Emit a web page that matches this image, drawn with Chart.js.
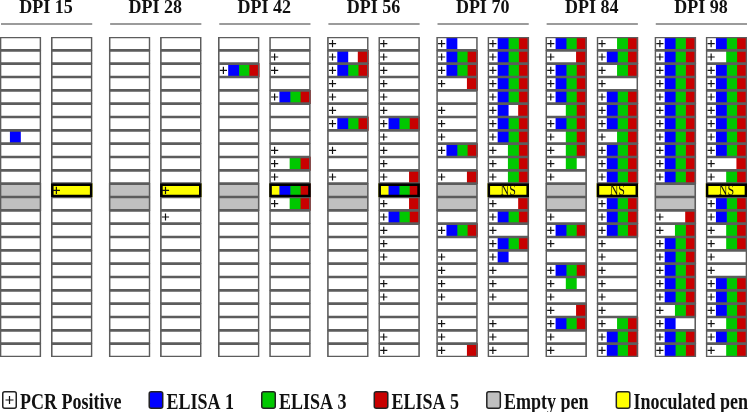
<!DOCTYPE html>
<html>
<head>
<meta charset="utf-8">
<script src="https://cdn.jsdelivr.net/npm/chart.js@4.4.0/dist/chart.umd.min.js"></script>
<style>
html,body{margin:0;padding:0;background:#ffffff;}
canvas{display:block;}
</style>
</head>
<body>
<canvas id="c" width="750" height="412"></canvas>
<script>
// ---- DATA ----
const GROUPS = ['DPI 15','DPI 28','DPI 42','DPI 56','DPI 70','DPI 84','DPI 98'];
const ROWS = ['R1','R2','R3','R4','R5','R6','R7','R8','R9','R10','R11','R12',
              'R13','R14','R15','R16','R17','R18','R19','R20','R21','R22','R23','R24'];
// Cell codes: P = PCR positive, B = ELISA 1, G = ELISA 3, R = ELISA 5,
// E = empty pen, Y = inoculated pen, N = inoculated pen not sampled (NS)
const dpi15Pen1 = ['','','','','','','','B','','','','E','E','','','','','','','','','','',''];
const dpi15Pen2 = ['','','','','','','','','','','','YP','','','','','','','','','','','',''];
const dpi28Pen1 = ['','','','','','','','','','','','E','E','','','','','','','','','','',''];
const dpi28Pen2 = ['','','','','','','','','','','','YP','','P','','','','','','','','','',''];
const dpi42Pen1 = ['','','PBGR','','','','','','','','','E','E','','','','','','','','','','',''];
const dpi42Pen2 = ['','P','P','','PBGR','','','','P','PGR','P','YBGR','PGR','','','','','','','','','','',''];
const dpi56Pen1 = ['P','PBR','PBGR','P','P','P','PBGR','','P','','P','E','E','','','','','','','','','','',''];
const dpi56Pen2 = ['P','P','P','P','P','P','PBGR','P','P','P','PR','YBGR','PR','PBGR','P','P','P','','P','P','','','P','P'];
const dpi70Pen1 = ['PB','PBGR','PBGR','PR','','P','P','P','PBGR','','PR','E','E','','PBGR','','P','P','P','P','','P','P','PR'];
const dpi70Pen2 = ['PBGR','PBGR','PBGR','PBGR','PBGR','PBR','PBGR','PBGR','PGR','PGR','PGR','N','PR','PBGR','P','PBGR','PB','P','P','P','','P','P','P'];
const dpi84Pen1 = ['PBGR','PR','PBGR','PBGR','PBGR','GR','PBGR','PGR','PGR','PG','P','E','E','P','PBGR','P','','PBGR','PG','P','PR','PBGR','P','P'];
const dpi84Pen2 = ['PGR','PBGR','PGR','P','PBGR','PBGR','PBGR','PGR','PBGR','PBGR','PBGR','N','PBGR','PBGR','PBGR','P','P','P','P','P','P','PGR','PBGR','PBGR'];
const dpi98Pen1 = ['PBGR','PBGR','PBGR','PBGR','PBGR','PBGR','PBGR','PBGR','PBGR','PBGR','PBGR','E','E','PR','PGR','PBGR','PBGR','PBGR','PBGR','PBGR','PGR','PB','PBGR','PBGR'];
const dpi98Pen2 = ['PBGR','PGR','PBGR','PBGR','PBGR','PBGR','PBGR','PBGR','PBGR','PR','PGR','N','PBGR','PBGR','PGR','PGR','P','P','PBGR','PBGR','PBGR','PGR','PBGR','PGR'];
const PENS = [
  [dpi15Pen1, dpi15Pen2], [dpi28Pen1, dpi28Pen2], [dpi42Pen1, dpi42Pen2],
  [dpi56Pen1, dpi56Pen2], [dpi70Pen1, dpi70Pen2], [dpi84Pen1, dpi84Pen2], [dpi98Pen1, dpi98Pen2]
];
const LEGEND_LABELS = ['PCR Positive','ELISA 1','ELISA 3','ELISA 5','Empty pen','Inoculated pen'];

// ---- LAYOUT (data units on the x scale) ----
const GROUP_STEP = 10.65, PEN_STEP = 5, PEN_W = 4;
const penStart = (g, p) => g * GROUP_STEP + p * PEN_STEP;
const COLORS = {blue:'#0000ff', green:'#00c800', red:'#c80000', gray:'#c0c0c0', yellow:'#ffff00'};

const allCells = [], emptyCells = [], inocCells = [], nsCells = [];
const blueCells = [], greenCells = [], redCells = [], pcrPoints = [];
PENS.forEach((pair, g) => pair.forEach((pen, p) => pen.forEach((code, r) => {
  const x0 = penStart(g, p), y = ROWS[r];
  allCells.push({y, x:[x0, x0 + PEN_W]});
  if (code.includes('E')) emptyCells.push({y, x:[x0, x0 + PEN_W]});
  if (code.includes('Y') || code === 'N') inocCells.push({y, x:[x0, x0 + PEN_W]});
  if (code === 'N') nsCells.push({g, p, r});
  if (code.includes('B')) blueCells.push({y, x:[x0 + 1, x0 + 2]});
  if (code.includes('G')) greenCells.push({y, x:[x0 + 2, x0 + 3]});
  if (code.includes('R')) redCells.push({y, x:[x0 + 3, x0 + 4]});
  if (code.includes('P')) pcrPoints.push({x: x0 + 0.5, y});
})));

const barBase = {indexAxis:'y', grouped:false, barPercentage:1, categoryPercentage:1, borderSkipped:false, borderWidth:0};

// ---- PLUGINS: headers, NS labels, legend ----
const decorations = {
  id:'decorations',
  afterDatasetsDraw(chart) {
    const ctx = chart.ctx, xs = chart.scales.x, ys = chart.scales.y;
    ctx.save();
    ctx.font = '12px "Liberation Serif"';
    ctx.fillStyle = '#111';
    ctx.textAlign = 'center';
    ctx.textBaseline = 'middle';
    nsCells.forEach(c => {
      const cx = xs.getPixelForValue(penStart(c.g, c.p) + PEN_W / 2);
      const cy = ys.getPixelForValue(c.r);
      ctx.save();
      ctx.translate(cx, cy + 0.5);
      ctx.scale(1, 1.2);
      ctx.fillText('NS', 0, 0);
      ctx.restore();
    });
    ctx.restore();
  },
  afterDraw(chart) {
    const ctx = chart.ctx, xs = chart.scales.x;
    ctx.save();
    // group headers
    ctx.font = 'bold 18px "Liberation Serif"';
    ctx.fillStyle = '#111';
    ctx.textAlign = 'center';
    ctx.textBaseline = 'alphabetic';
    GROUPS.forEach((name, g) => {
      const a = xs.getPixelForValue(penStart(g, 0));
      const b = xs.getPixelForValue(penStart(g, 1) + PEN_W);
      ctx.fillText(name, (a + b) / 2, 13);
      ctx.strokeStyle = '#7a7a7a';
      ctx.lineWidth = 1.6;
      ctx.beginPath();
      ctx.moveTo(a + 1, 24);
      ctx.lineTo(b, 24);
      ctx.stroke();
    });
    // legend
    const fills = ['#ffffff', COLORS.blue, COLORS.green, COLORS.red, COLORS.gray, COLORS.yellow];
    let x = 2;
    const top = 391, bw = 15, bh = 18, base = 409;
    ctx.font = 'bold 18px "Liberation Serif"';
    ctx.textAlign = 'left';
    LEGEND_LABELS.forEach((label, i) => {
      ctx.beginPath();
      ctx.roundRect(x + 0.75, top + 0.75, bw - 1.5, bh - 1.5, 2);
      ctx.fillStyle = fills[i];
      ctx.fill();
      ctx.lineWidth = 1.5;
      ctx.strokeStyle = '#222';
      ctx.stroke();
      if (i === 0) {
        ctx.lineWidth = 1.2;
        ctx.strokeStyle = '#111';
        ctx.beginPath();
        ctx.moveTo(x + bw / 2, top + bh / 2 - 4);
        ctx.lineTo(x + bw / 2, top + bh / 2 + 4);
        ctx.moveTo(x + bw / 2 - 4, top + bh / 2);
        ctx.lineTo(x + bw / 2 + 4, top + bh / 2);
        ctx.stroke();
      }
      const tx = x + bw + 3;
      ctx.fillStyle = '#111';
      ctx.save();
      ctx.translate(tx, base);
      ctx.scale(1, 1.25);
      ctx.fillText(label, 0, 0);
      ctx.restore();
      x = tx + ctx.measureText(label).width + 27;
    });
    ctx.restore();
  }
};

new Chart(document.getElementById('c'), {
  type: 'bar',
  data: {
    labels: ROWS,
    datasets: [
      {type:'scatter', label:'PCR Positive', data:pcrPoints, pointStyle:'cross', pointRadius:3.6,
       pointHoverRadius:3.6, pointBorderWidth:1.2, borderColor:'#111', backgroundColor:'#111', order:0},
      Object.assign({}, barBase, {label:'Inoculated outline', data:inocCells, backgroundColor:'rgba(0,0,0,0)',
       borderColor:'#000', borderWidth:2, order:1}),
      Object.assign({}, barBase, {label:'Cell outline', data:allCells, backgroundColor:'rgba(0,0,0,0)',
       borderColor:'#5c5c5c', borderWidth:1, order:2}),
      Object.assign({}, barBase, {label:'ELISA 1', data:blueCells, backgroundColor:COLORS.blue, order:3}),
      Object.assign({}, barBase, {label:'ELISA 3', data:greenCells, backgroundColor:COLORS.green, order:4}),
      Object.assign({}, barBase, {label:'ELISA 5', data:redCells, backgroundColor:COLORS.red, order:5}),
      Object.assign({}, barBase, {label:'Empty pen', data:emptyCells, backgroundColor:COLORS.gray, order:6}),
      Object.assign({}, barBase, {label:'Inoculated pen', data:inocCells, backgroundColor:COLORS.yellow, order:7})
    ]
  },
  options: {
    indexAxis: 'y',
    responsive: false,
    animation: false,
    devicePixelRatio: 1,
    layout: {autoPadding: false, padding: {top:37, bottom:55, left:0, right:3}},
    plugins: {legend: {display:false}, tooltip: {enabled:false}},
    scales: {
      x: {type:'linear', min:0, max: penStart(GROUPS.length - 1, 1) + PEN_W, offset:false,
          display:false, grid:{display:false, offset:false}, beginAtZero:false},
      y: {type:'category', labels: ROWS, offset:true, display:false, grid:{display:false}}
    }
  },
  plugins: [decorations]
});
</script>
</body>
</html>
